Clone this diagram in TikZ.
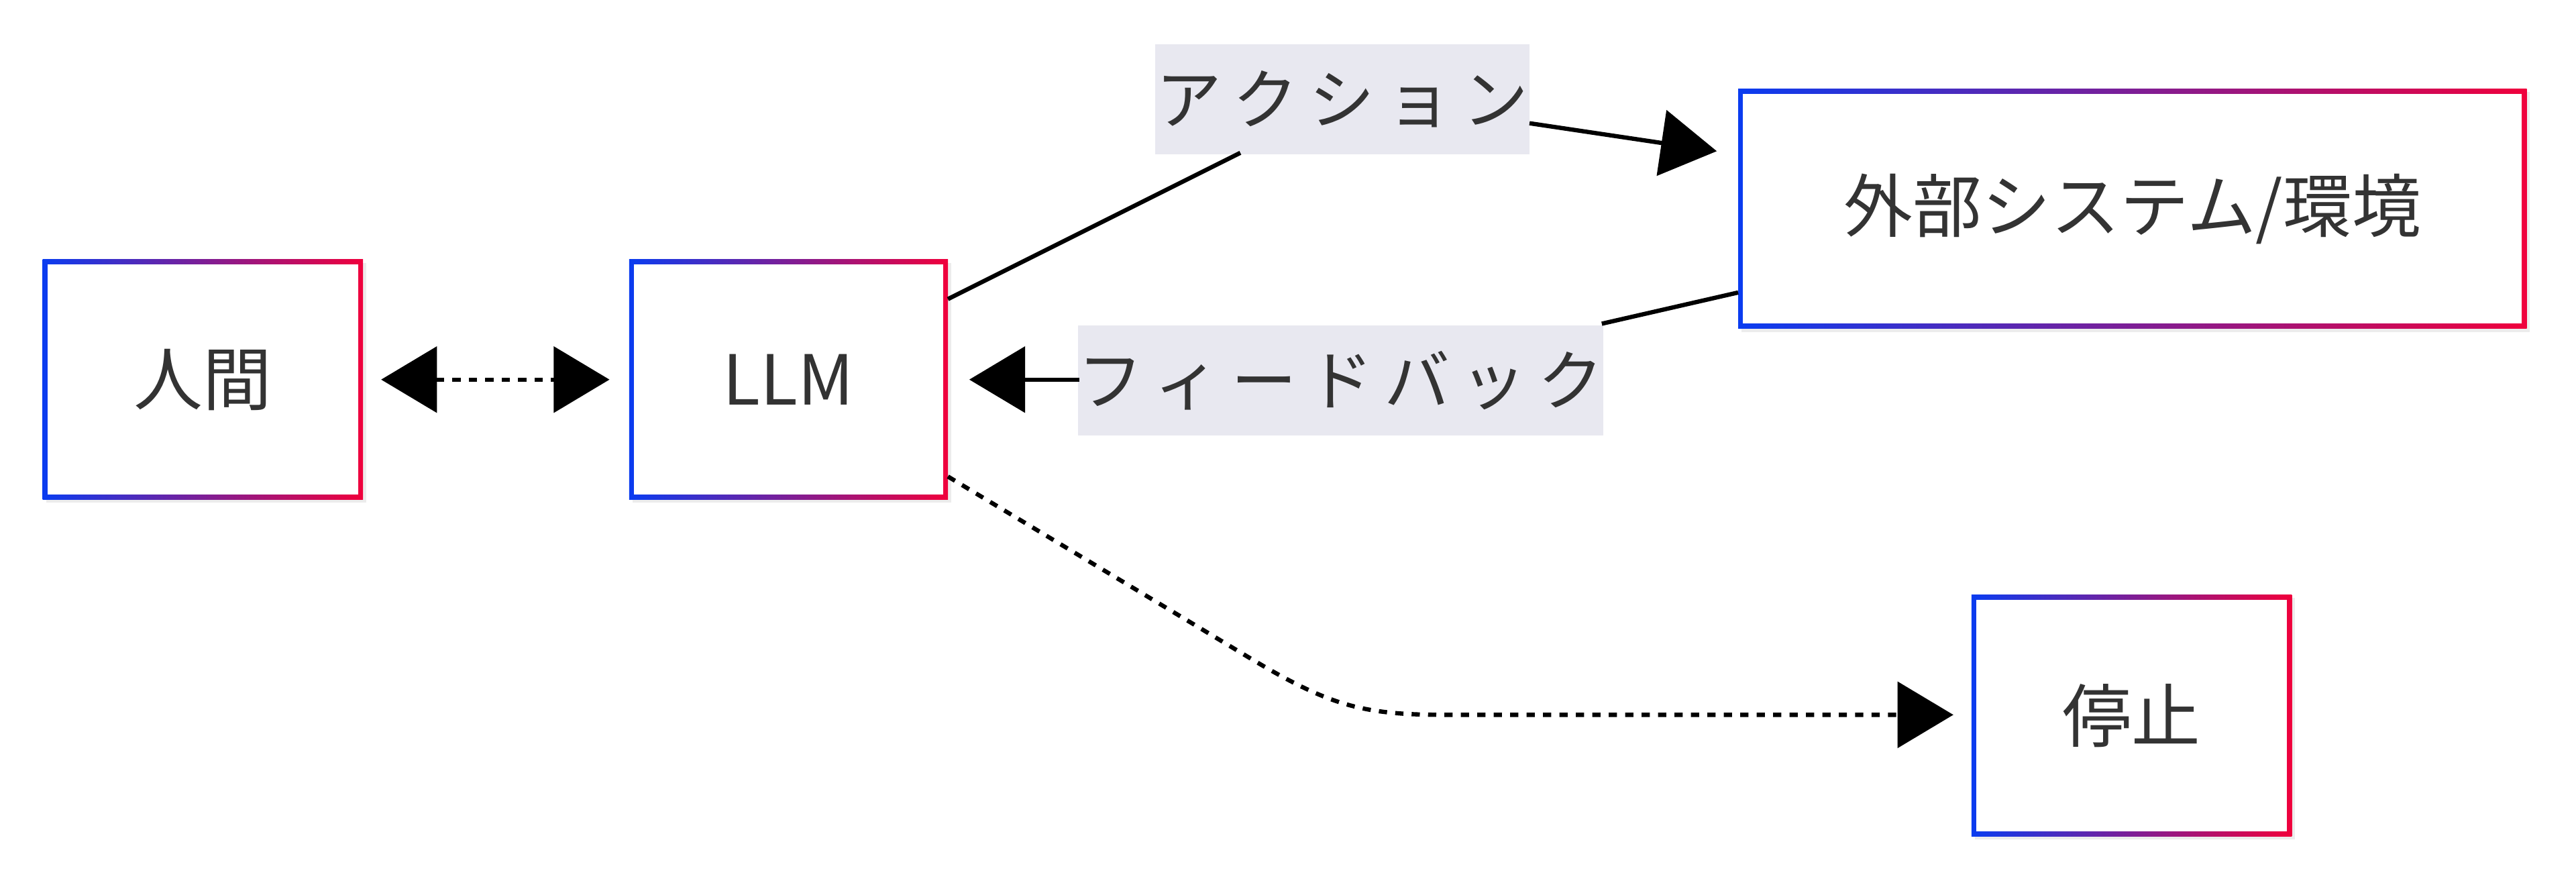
\documentclass[tikz,border=0pt]{standalone}
\usepackage{fontspec}
\setmainfont{Noto Sans CJK JP}
\usetikzlibrary{arrows.meta,shadows}
\definecolor{txt}{HTML}{333333}
\definecolor{lab}{HTML}{E8E8F0}
\definecolor{gb}{HTML}{0A3CF0}
\definecolor{gr}{HTML}{F0003C}
\tikzset{
  tip/.style={-{Triangle[length=34pt,width=40pt]}},
  edge/.style={line width=2.6pt,black},
  dotedge/.style={edge,dash pattern=on 5pt off 5pt},
  lbl/.style={fill=lab,text=txt,font=\fontsize{40}{44}\selectfont,inner sep=0pt},
  ntext/.style={text=txt,font=\fontsize{42}{48}\selectfont}
}
\newcommand{\gbox}[5]{%
  \shade[left color=gb,right color=gr,drop shadow={opacity=0.15,shadow xshift=2pt,shadow yshift=-2pt}] (#1,#2) rectangle (#3,#4);
  \fill[white] ([xshift=3pt,yshift=-3pt]#1,#2) rectangle ([xshift=-3pt,yshift=3pt]#3,#4);
  \node[ntext] (#5) at ({(#1+#3)/2},{(#2+#4)/2}) {};
}
\begin{document}
\begin{tikzpicture}[x=1pt,y=-1pt]
\useasboundingbox (0,0) rectangle (1568,536);
\gbox{26}{158}{221}{304}{hum}
\gbox{383}{158}{577}{304}{llm}
\gbox{1058}{54}{1538}{200}{ext}
\gbox{1200}{362}{1395}{509}{stp}
\node[ntext] at (hum) {人間};
\node[ntext] at (llm) {LLM};
\node[ntext] at (ext) {外部システム/環境};
\node[ntext] at (stp) {停止};
\node[lbl,minimum width=228pt,minimum height=67pt] (la) at (817,60.5) {ア\,ク\,シ\,ョ\,ン};
\node[lbl,minimum width=318pt,minimum height=67pt] (lf) at (816,231.5) {フ\,ィ\,ー\,ド\,バ\,ッ\,ク};
\coordinate (h1) at (232,231); \coordinate (l1) at (371,231);
\draw[dotedge,{Triangle[length=34pt,width=40pt]}-{Triangle[length=34pt,width=40pt]}] (h1) -- (l1);
\coordinate (a0) at (577,182); \coordinate (a1) at (755,93);
\coordinate (a2) at (931,75); \coordinate (a3) at (1045,92);
\draw[edge] (a0) -- (a1);
\draw[edge,tip] (a2) -- (a3);
\coordinate (f0) at (1058,178); \coordinate (f1) at (975,197);
\coordinate (f2) at (657,231); \coordinate (f3) at (590,231);
\draw[edge] (f0) -- (f1);
\draw[edge,tip] (f2) -- (f3);
\coordinate (s0) at (577,290); \coordinate (s1) at (1189,435);
\draw[dotedge,tip] (s0) -- (760,400) .. controls (810,430) and (830,435) .. (880,435) -- (s1);
\end{tikzpicture}
\end{document}
